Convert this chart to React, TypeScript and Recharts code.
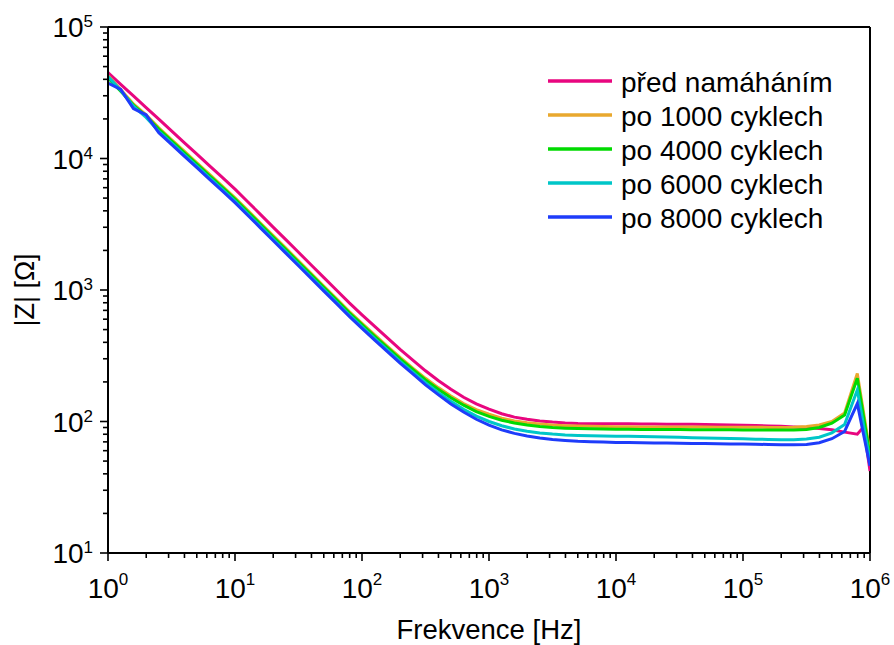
import React from "react";
import { LineChart, Line, XAxis, YAxis, ReferenceLine } from "recharts";

// frequency sweep [Hz], 10 points per decade (+ one extra near 1 MHz)
const freq = [
  1, 1.259, 1.585, 1.995, 2.512, 3.162, 3.981, 5.012, 6.31, 7.943,
  10, 12.59, 15.85, 19.95, 25.12, 31.62, 39.81, 50.12, 63.1, 79.43,
  100, 125.9, 158.5, 199.5, 251.2, 316.2, 398.1, 501.2, 631, 794.3,
  1000, 1259, 1585, 1995, 2512, 3162, 3981, 5012, 6310, 7943,
  10000, 12589, 15849, 19953, 25119, 31623, 39811, 50119, 63096, 79433,
  100000, 125893, 158489, 199526, 251189, 316228, 398107, 501187, 630957, 794328,
  891251, 1000000,
];

// |Z| [Ohm]
const pred = [
  45000, 36650, 29900, 24380, 19900, 16220, 13210, 10790, 8790, 7180,
  5850, 4690, 3760, 3010, 2415, 1935, 1550, 1242, 996, 798,
  647, 528, 432, 354, 293, 243, 205, 176, 153, 136,
  124, 114.5, 108, 104, 101, 99, 97.6, 96.7, 96.3, 96.1,
  96, 96, 95.8, 95.6, 95.5, 95.3, 95.1, 94.8, 94.5, 94.1,
  93.7, 93.2, 92.6, 91.9, 91, 90, 88.6, 86.5, 83, 80,
  91, 42,
];
const po1000 = [
  42500, 33500, 26000, 21500, 17100, 13950, 11360, 9280, 7560, 6170,
  5030, 4030, 3230, 2590, 2080, 1664, 1333, 1068, 857, 686,
  557, 455, 373, 307, 255, 213, 181, 156, 137, 123,
  113.5, 106, 101, 98, 95.6, 94, 93, 92.3, 91.9, 91.6,
  91.4, 91.2, 91, 91, 90.9, 90.8, 90.8, 90.7, 90.6, 90.5,
  90.4, 90.3, 90.2, 90.2, 90.6, 91.5, 94, 100, 116, 232,
  116, 58,
];
const po4000 = [
  41000, 32500, 25500, 21000, 16720, 13620, 11100, 9060, 7380, 6030,
  4910, 3940, 3160, 2530, 2030, 1625, 1302, 1043, 837, 670,
  545, 445, 364.5, 299, 249, 207, 176, 151.5, 133, 119,
  109.4, 102.3, 97.4, 93.9, 91.6, 90, 89, 88.4, 87.9, 87.6,
  87.4, 87.2, 87.1, 87, 86.9, 86.8, 86.7, 86.6, 86.5, 86.4,
  86.3, 86.2, 86.1, 86.1, 86.3, 87, 90, 97, 112, 213,
  108, 55,
];
const po6000 = [
  42000, 33000, 25000, 20500, 16120, 13140, 10700, 8740, 7120, 5820,
  4740, 3800, 3046, 2438, 1956, 1567, 1256, 1006, 807, 646,
  524, 427, 350, 287, 237, 197, 166, 142.6, 124, 110,
  100, 92.8, 87.8, 84.2, 81.8, 80.2, 79.1, 78.4, 77.9, 77.6,
  77.4, 77.1, 76.8, 76.5, 76.2, 75.8, 75.4, 75, 74.6, 74.2,
  73.8, 73.4, 73, 72.8, 72.8, 73.5, 76, 82, 95, 174,
  93, 50,
];
const po8000 = [
  37500, 33500, 24000, 21500, 15720, 12810, 10440, 8520, 6940, 5670,
  4620, 3705, 2970, 2378, 1908, 1529, 1225, 981, 787, 630,
  511, 416, 340, 278, 230, 190, 160, 136, 118, 104,
  93.8, 86.4, 81.2, 77.5, 75, 73, 71.8, 70.8, 70.2, 69.7,
  69.3, 69.1, 68.9, 68.7, 68.5, 68.3, 68.1, 67.9, 67.7, 67.5,
  67.3, 67.1, 66.9, 66.7, 66.6, 66.9, 69, 74, 84, 137,
  79, 46,
];

const seriesKeys = ["pred", "c1000", "c4000", "c6000", "c8000"];
const seriesNames = [
  "před namáháním",
  "po 1000 cyklech",
  "po 4000 cyklech",
  "po 6000 cyklech",
  "po 8000 cyklech",
];
const seriesColors = ["#E8067F", "#E9A82E", "#00DA00", "#00C6C8", "#1E3CFA"];

const xMajor = [1, 10, 100, 1000, 10000, 100000, 1000000];
const yMajor = [10, 100, 1000, 10000, 100000];
const minorSteps = [2, 3, 4, 5, 6, 7, 8, 9];

const withMinors = (majors: number[]) => {
  const out: number[] = [];
  majors.forEach((m, i) => {
    out.push(m);
    if (i < majors.length - 1) minorSteps.forEach((s) => out.push(m * s));
  });
  return out;
};
const xTicks = withMinors(xMajor);
const yTicks = withMinors(yMajor);

const data = freq.map((f, i) => ({
  f,
  pred: pred[i],
  c1000: po1000[i],
  c4000: po4000[i],
  c6000: po6000[i],
  c8000: po8000[i],
}));

const FONT = "'Liberation Sans', Arial, Helvetica, sans-serif";

const expOf = (v: number) => Math.round(Math.log10(v));
const isMajor = (v: number) => Math.abs(Math.log10(v) - expOf(v)) < 1e-6;

const XTick = (props: any) => {
  const { x, y, payload } = props;
  const major = isMajor(payload.value);
  return (
    <g>
      <line x1={x} x2={x} y1={y} y2={y + (major ? 8 : 5)} stroke="#000" strokeWidth={1.6} />
      {major && (
        <text x={x} y={y + 45} textAnchor="middle" fontSize={28} fill="#000" fontFamily={FONT}>
          10
          <tspan dy={-13} fontSize={17}>
            {expOf(payload.value)}
          </tspan>
        </text>
      )}
    </g>
  );
};

const YTick = (props: any) => {
  const { x, y, payload } = props;
  const major = isMajor(payload.value);
  return (
    <g>
      <line x1={x} x2={x - (major ? 8 : 5)} y1={y} y2={y} stroke="#000" strokeWidth={1.6} />
      {major && (
        <text x={x - 15} y={y + 10} textAnchor="end" fontSize={28} fill="#000" fontFamily={FONT}>
          10
          <tspan dy={-10} fontSize={17}>
            {expOf(payload.value)}
          </tspan>
        </text>
      )}
    </g>
  );
};

const W = 894;
const H = 645;

export default function App() {
  return (
    <div style={{ position: "absolute", left: 0, top: 0, width: W, height: H, background: "#fff" }}>
      <LineChart
        width={W}
        height={H}
        data={data}
        margin={{ top: 27, right: 24, left: 0, bottom: 0 }}
      >
        <XAxis
          dataKey="f"
          type="number"
          scale="log"
          domain={[1, 1000000]}
          allowDataOverflow
          ticks={xTicks}
          interval={0}
          tick={<XTick />}
          tickLine={false}
          tickSize={0}
          tickMargin={0}
          axisLine={{ stroke: "#000", strokeWidth: 2 }}
          height={92}
        />
        <YAxis
          type="number"
          scale="log"
          domain={[10, 100000]}
          allowDataOverflow
          ticks={yTicks}
          interval={0}
          tick={<YTick />}
          tickLine={false}
          tickSize={0}
          tickMargin={0}
          axisLine={{ stroke: "#000", strokeWidth: 2 }}
          width={108}
        />
        <ReferenceLine y={100000} stroke="#000" strokeWidth={2} />
        <ReferenceLine x={1000000} stroke="#000" strokeWidth={2} />
        {seriesKeys.map((k, i) => (
          <Line
            key={k}
            dataKey={k}
            name={seriesNames[i]}
            type="linear"
            stroke={seriesColors[i]}
            strokeWidth={3}
            dot={false}
            isAnimationActive={false}
          />
        ))}
      </LineChart>
      <svg
        width={W}
        height={H}
        style={{ position: "absolute", left: 0, top: 0, pointerEvents: "none" }}
      >
        {seriesNames.map((n, i) => (
          <g key={n}>
            <line
              x1={548}
              x2={612}
              y1={81 + 34 * i}
              y2={81 + 34 * i}
              stroke={seriesColors[i]}
              strokeWidth={3.5}
            />
            <text x={621} y={92 + 34 * i} fontSize={28} fill="#000" fontFamily={FONT}>
              {n}
            </text>
          </g>
        ))}
        <text x={489} y={639} textAnchor="middle" fontSize={27.5} fill="#000" fontFamily={FONT}>
          Frekvence [Hz]
        </text>
        <text
          transform="translate(34 290) rotate(-90)"
          textAnchor="middle"
          fontSize={27}
          fill="#000"
          fontFamily={FONT}
        >
          |Z| [Ω]
        </text>
      </svg>
    </div>
  );
}
